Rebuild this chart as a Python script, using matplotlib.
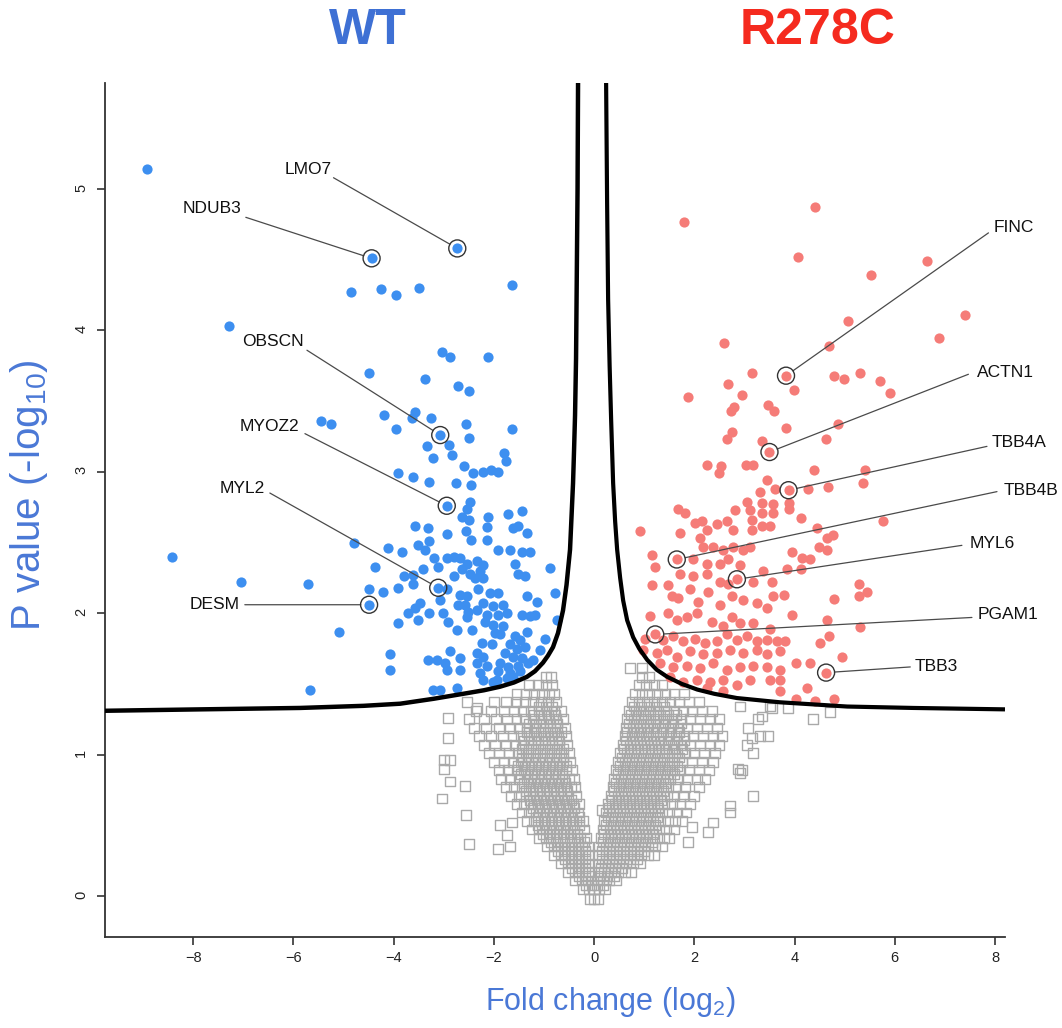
import numpy as np
import matplotlib
matplotlib.use("Agg")
import matplotlib.pyplot as plt

plt.rcParams["font.family"] = ["Liberation Sans", "DejaVu Sans"]
plt.rcParams["mathtext.default"] = "regular"

# proteins up in WT (blue dots): (log2 fold change, -log10 p)
wt_points = [
    (-8.93, 5.14), (-4.44, 4.51), (-2.73, 4.58), (-4.86, 4.27), (-4.25, 4.29), (-3.95, 4.25),
    (-3.49, 4.30), (-1.64, 4.32), (-7.28, 4.03), (-3.03, 3.85), (-2.87, 3.81), (-2.11, 3.81),
    (-4.49, 3.70), (-3.37, 3.66), (-2.72, 3.61), (-2.49, 3.57), (-4.19, 3.40), (-3.57, 3.42),
    (-3.64, 3.38), (-3.26, 3.38), (-5.44, 3.36), (-5.25, 3.34), (-3.95, 3.30), (-3.07, 3.26),
    (-2.56, 3.34), (-2.49, 3.24), (-1.64, 3.30), (-3.33, 3.18), (-2.89, 3.19), (-3.21, 3.10),
    (-2.83, 3.12), (-1.80, 3.13), (-1.76, 3.08), (-2.59, 3.04), (-2.41, 2.99), (-2.22, 3.00),
    (-2.06, 3.01), (-1.91, 3.00), (-3.91, 2.99), (-3.61, 2.96), (-3.29, 2.93), (-2.75, 2.92),
    (-2.46, 2.91), (-2.94, 2.76), (-2.48, 2.79), (-2.54, 2.74), (-2.64, 2.68), (-2.50, 2.66),
    (-2.11, 2.68), (-1.71, 2.70), (-1.44, 2.72), (-3.57, 2.62), (-3.32, 2.60), (-2.94, 2.56),
    (-2.56, 2.58), (-2.46, 2.52), (-2.14, 2.61), (-2.14, 2.52), (-1.61, 2.60), (-1.51, 2.62),
    (-1.34, 2.57), (-4.79, 2.50), (-3.52, 2.48), (-3.29, 2.51), (-3.37, 2.45), (-4.11, 2.46),
    (-3.84, 2.43), (-1.91, 2.45), (-1.68, 2.45), (-1.44, 2.43), (-1.28, 2.43), (-3.19, 2.39),
    (-2.94, 2.39), (-2.79, 2.40), (-2.67, 2.39), (-3.11, 2.33), (-2.54, 2.35), (-2.34, 2.37),
    (-2.21, 2.34), (-1.58, 2.35), (-8.43, 2.40), (-4.37, 2.33), (-2.64, 2.31), (-2.48, 2.28),
    (-2.28, 2.30), (-0.88, 2.32), (-3.41, 2.31), (-3.79, 2.26), (-3.61, 2.27), (-2.79, 2.26),
    (-2.38, 2.25), (-2.21, 2.25), (-1.51, 2.28), (-1.38, 2.26), (-7.05, 2.22), (-5.70, 2.21),
    (-3.92, 2.18), (-3.61, 2.21), (-3.11, 2.18), (-4.49, 2.17), (-4.22, 2.15), (-2.94, 2.17),
    (-2.67, 2.13), (-2.54, 2.12), (-2.31, 2.17), (-2.08, 2.14), (-1.91, 2.14), (-1.34, 2.12),
    (-1.14, 2.08), (-0.78, 2.14), (-3.07, 2.09), (-2.71, 2.06), (-2.57, 2.06), (-2.21, 2.07),
    (-2.01, 2.05), (-1.81, 2.06), (-3.47, 2.07), (-3.57, 2.04), (-4.49, 2.06), (-3.01, 2.00),
    (-2.91, 1.94), (-2.51, 2.01), (-2.34, 2.02), (-2.14, 1.99), (-1.91, 1.99), (-1.74, 2.00),
    (-1.44, 1.99), (-1.28, 1.98), (-1.18, 1.99), (-3.71, 2.00), (-3.51, 1.95), (-3.29, 2.00),
    (-3.92, 1.93), (-2.54, 1.97), (-2.18, 1.94), (-2.01, 1.92), (-1.81, 1.91), (-0.74, 1.95),
    (-2.74, 1.88), (-2.44, 1.88), (-1.98, 1.86), (-1.88, 1.85), (-1.58, 1.84), (-1.48, 1.81),
    (-1.34, 1.87), (-0.98, 1.82), (-5.10, 1.87), (-2.24, 1.79), (-2.04, 1.78), (-1.68, 1.78),
    (-1.54, 1.75), (-1.38, 1.76), (-1.08, 1.74), (-4.07, 1.71), (-2.87, 1.73), (-2.67, 1.68),
    (-2.34, 1.72), (-2.21, 1.69), (-1.78, 1.72), (-1.61, 1.69), (-1.44, 1.68), (-3.31, 1.67),
    (-3.14, 1.67), (-2.97, 1.65), (-2.34, 1.65), (-2.14, 1.63), (-1.88, 1.65), (-1.71, 1.62),
    (-1.51, 1.63), (-1.31, 1.65), (-4.07, 1.60), (-2.94, 1.60), (-2.67, 1.60), (-2.28, 1.58),
    (-1.91, 1.59), (-1.68, 1.58), (-1.48, 1.59), (-2.21, 1.53), (-1.94, 1.53), (-1.74, 1.54),
    (-5.67, 1.46), (-3.21, 1.46), (-3.07, 1.46), (-2.74, 1.47), (-2.01, 1.51), (-1.22, 1.67),
    (-1.62, 1.55),
]

# proteins up in R278C (red dots)
mut_points = [
    (1.80, 4.77), (4.41, 4.87), (4.06, 4.52), (6.64, 4.49), (5.52, 4.39), (5.06, 4.07),
    (7.40, 4.11), (6.89, 3.95), (2.60, 3.91), (4.68, 3.89), (3.83, 3.68), (3.15, 3.70),
    (4.79, 3.68), (4.98, 3.66), (5.30, 3.70), (5.71, 3.64), (5.91, 3.56), (2.68, 3.62),
    (3.99, 3.58), (1.88, 3.53), (2.96, 3.54), (2.73, 3.43), (2.80, 3.46), (3.48, 3.47),
    (3.60, 3.43), (3.83, 3.31), (4.86, 3.34), (2.76, 3.28), (2.65, 3.23), (3.35, 3.22),
    (3.50, 3.14), (4.63, 3.23), (2.26, 3.05), (2.53, 3.04), (2.50, 2.99), (3.03, 3.05),
    (3.18, 3.05), (4.38, 3.01), (5.40, 3.01), (3.46, 2.94), (5.36, 2.92), (3.88, 2.87),
    (3.61, 2.88), (3.31, 2.86), (4.26, 2.88), (4.66, 2.89), (5.76, 2.65), (1.68, 2.74),
    (1.82, 2.71), (2.81, 2.73), (3.05, 2.79), (3.11, 2.73), (3.35, 2.78), (3.35, 2.71),
    (3.58, 2.77), (3.58, 2.71), (3.88, 2.78), (3.88, 2.74), (4.13, 2.67), (0.92, 2.58),
    (1.72, 2.57), (2.02, 2.64), (2.15, 2.65), (2.25, 2.59), (2.45, 2.63), (2.65, 2.65),
    (2.78, 2.59), (3.15, 2.66), (3.15, 2.59), (3.35, 2.62), (3.51, 2.62), (4.45, 2.60),
    (4.64, 2.53), (4.76, 2.55), (1.65, 2.38), (1.15, 2.41), (1.22, 2.33), (1.15, 2.20),
    (2.12, 2.53), (2.18, 2.47), (2.38, 2.47), (2.58, 2.45), (2.78, 2.47), (2.98, 2.45),
    (3.11, 2.47), (1.98, 2.38), (2.25, 2.35), (2.51, 2.35), (2.68, 2.38), (2.91, 2.34),
    (3.95, 2.43), (4.15, 2.39), (4.31, 2.38), (4.48, 2.47), (4.64, 2.45), (2.85, 2.24),
    (1.72, 2.28), (1.98, 2.26), (2.25, 2.28), (2.51, 2.22), (2.68, 2.21), (3.18, 2.22),
    (3.38, 2.30), (3.55, 2.22), (3.85, 2.31), (4.13, 2.31), (5.28, 2.21), (5.44, 2.15),
    (5.28, 2.12), (4.79, 2.10), (1.48, 2.20), (1.55, 2.12), (1.68, 2.11), (1.92, 2.17),
    (2.08, 2.08), (2.28, 2.15), (2.51, 2.06), (2.75, 2.12), (2.98, 2.09), (3.25, 2.07),
    (3.45, 2.04), (3.58, 2.12), (3.78, 2.13), (3.95, 1.99), (4.64, 1.95), (5.30, 1.90),
    (1.12, 1.98), (1.48, 2.00), (1.65, 1.95), (1.85, 1.97), (2.05, 2.00), (2.35, 1.94),
    (2.58, 1.91), (2.75, 1.97), (2.91, 1.93), (3.18, 1.93), (3.51, 1.89), (1.22, 1.85),
    (1.02, 1.82), (1.38, 1.81), (1.58, 1.84), (1.78, 1.80), (2.02, 1.82), (2.22, 1.79),
    (2.45, 1.80), (2.65, 1.85), (2.85, 1.81), (3.05, 1.84), (3.25, 1.80), (3.45, 1.81),
    (3.65, 1.80), (3.81, 1.80), (4.51, 1.79), (4.68, 1.84), (0.98, 1.74), (1.25, 1.72),
    (1.45, 1.74), (1.65, 1.69), (1.92, 1.73), (2.18, 1.71), (2.45, 1.72), (2.71, 1.74),
    (2.98, 1.72), (3.25, 1.74), (3.45, 1.71), (3.71, 1.73), (4.03, 1.65), (4.30, 1.65),
    (4.94, 1.69), (4.63, 1.58), (1.32, 1.65), (1.58, 1.62), (1.85, 1.63), (2.12, 1.61),
    (2.38, 1.65), (2.65, 1.60), (2.91, 1.62), (3.18, 1.63), (3.45, 1.62), (3.71, 1.60),
    (1.52, 1.55), (1.78, 1.51), (2.05, 1.53), (2.32, 1.51), (2.58, 1.53), (2.85, 1.49),
    (3.11, 1.53), (3.51, 1.53), (3.71, 1.53), (3.71, 1.45), (4.25, 1.47), (2.25, 1.47),
    (2.58, 1.45), (4.03, 1.39), (4.41, 1.38), (4.78, 1.39),
]

# non-significant proteins (grey squares), read row by row: (-log10 p, [log2 FC ...])
grey_rows = [
    (-0.02, [-0.08, 0.0, 0.07]),
    (0.05, [-0.22, -0.1, 0.0, 0.1, 0.22]),
    (0.11, [-0.38, -0.25, -0.12, 0.05, 0.17, 0.3, 0.44]),
    (0.17, [-0.52, -0.38, -0.24, -0.1, 0.07, 0.2, 0.34, 0.48, 0.62, 0.74]),
    (0.23, [-0.66, -0.52, -0.38, -0.24, -0.1, 0.08, 0.22, 0.36, 0.5, 0.64, 0.78, 0.92]),
    (0.29, [-0.8, -0.66, -0.52, -0.38, -0.24, -0.11, 0.09, 0.23, 0.37, 0.51, 0.65, 0.79,
            0.93, 1.07, 1.2]),
    (0.35, [-0.94, -0.8, -0.66, -0.52, -0.38, -0.24, -0.12, 0.1, 0.24, 0.38, 0.52, 0.66,
            0.8, 0.94, 1.08, 1.22, 1.35]),
    (0.41, [-1.1, -0.96, -0.82, -0.68, -0.54, -0.4, -0.27, -0.15, 0.13, 0.27, 0.41, 0.55,
            0.69, 0.83, 0.97, 1.11, 1.25, 1.4, 1.5]),
    (0.47, [-1.24, -1.1, -0.96, -0.82, -0.68, -0.54, -0.4, -0.2, 0.17, 0.31, 0.45, 0.59,
            0.73, 0.87, 1.01, 1.15, 1.29, 1.43, 1.6]),
    (0.53, [-1.35, -1.2, -1.06, -0.92, -0.78, -0.64, -0.5, -0.36, -0.22, 0.2, 0.34, 0.48,
            0.62, 0.76, 0.9, 1.04, 1.18, 1.32, 1.48, 1.62, 1.75]),
    (0.59, [-1.45, -1.3, -1.16, -1.02, -0.88, -0.74, -0.6, -0.46, -0.32, 0.23, 0.37, 0.51,
            0.65, 0.79, 0.93, 1.07, 1.21, 1.35, 1.5, 1.66, 1.84]),
    (0.65, [-1.55, -1.4, -1.26, -1.12, -0.98, -0.84, -0.7, -0.56, -0.42, -0.3, 0.28, 0.42,
            0.56, 0.7, 0.84, 0.98, 1.12, 1.26, 1.4, 1.56, 1.72, 1.92]),
    (0.71, [-1.65, -1.5, -1.36, -1.22, -1.08, -0.94, -0.8, -0.66, -0.52, -0.36, 0.33, 0.47,
            0.61, 0.75, 0.89, 1.03, 1.17, 1.31, 1.45, 1.6, 1.78, 2.0]),
    (0.77, [-1.75, -1.6, -1.45, -1.3, -1.16, -1.02, -0.88, -0.74, -0.6, -0.46, -0.37, 0.37,
            0.5, 0.64, 0.78, 0.92, 1.06, 1.2, 1.34, 1.48, 1.64, 1.82, 2.1]),
    (0.83, [-1.85, -1.68, -1.5, -1.34, -1.2, -1.06, -0.92, -0.78, -0.64, -0.5, -0.4, 0.4,
            0.54, 0.68, 0.82, 0.96, 1.1, 1.24, 1.38, 1.52, 1.68, 1.86, 2.05, 2.22]),
    (0.89, [-1.9, -1.72, -1.55, -1.4, -1.26, -1.12, -0.98, -0.84, -0.7, -0.56, -0.44, 0.44,
            0.58, 0.72, 0.86, 1.0, 1.14, 1.28, 1.42, 1.56, 1.72, 1.9, 2.1, 2.3]),
    (0.95, [-2.0, -1.8, -1.62, -1.46, -1.32, -1.18, -1.04, -0.9, -0.76, -0.62, -0.48, 0.48,
            0.62, 0.76, 0.9, 1.04, 1.18, 1.32, 1.46, 1.6, 1.76, 1.95, 2.15, 2.38]),
    (1.01, [-2.1, -1.9, -1.7, -1.52, -1.36, -1.22, -1.08, -0.94, -0.8, -0.66, -0.5, 0.52,
            0.66, 0.8, 0.94, 1.08, 1.22, 1.36, 1.5, 1.66, 1.82, 2.0, 2.2, 2.42]),
    (1.07, [-2.2, -1.98, -1.76, -1.58, -1.42, -1.26, -1.12, -0.98, -0.84, -0.7, -0.54, 0.58,
            0.72, 0.86, 1.0, 1.14, 1.28, 1.42, 1.58, 1.74, 1.92, 2.12, 2.32, 2.5]),
    (1.13, [-2.3, -2.05, -1.82, -1.62, -1.46, -1.3, -1.15, -1.0, -0.86, -0.72, -0.56, 0.62,
            0.76, 0.9, 1.04, 1.18, 1.32, 1.48, 1.64, 1.8, 1.98, 2.18, 2.38, 2.55]),
    (1.19, [-2.4, -2.15, -1.9, -1.68, -1.5, -1.34, -1.18, -1.02, -0.88, -0.74, -0.58, 0.64,
            0.78, 0.92, 1.06, 1.2, 1.36, 1.52, 1.68, 1.86, 2.05, 2.25, 2.45]),
    (1.25, [-2.5, -2.2, -1.95, -1.74, -1.55, -1.38, -1.22, -1.06, -0.9, -0.76, -0.62, 0.66,
            0.8, 0.94, 1.08, 1.24, 1.4, 1.56, 1.74, 1.92, 2.12, 2.32, 2.5]),
    (1.31, [-2.35, -2.05, -1.8, -1.6, -1.42, -1.26, -1.1, -0.95, -0.8, -0.66, 0.7, 0.84,
            0.98, 1.12, 1.28, 1.44, 1.6, 1.78, 1.96, 2.15, 2.35]),
    (1.37, [-2.0, -1.75, -1.55, -1.38, -1.22, -1.06, -0.92, -0.76, 0.75, 0.9, 1.05, 1.2,
            1.36, 1.52, 1.7, 1.9, 2.1]),
    (1.43, [-1.55, -1.36, -1.2, -1.04, -0.9, -0.8, 0.82, 0.96, 1.1, 1.26, 1.42, 1.6, 1.8]),
    (1.49, [-1.3, -1.12, -0.96, -0.84, 0.9, 1.04, 1.2, 1.36]),
    (1.55, [-0.96, -0.86, 0.95, 1.1]),
    (1.61, [0.72, 0.96]),
]
# the packed core of each arm, squares sitting between the rows above
grey_rows_core = [
    (0.08, [-0.17, -0.05, 0.06, 0.17]),
    (0.14, [-0.31, -0.17, -0.05, 0.12, 0.26, 0.4]),
    (0.20, [-0.45, -0.31, -0.17, 0.14, 0.28, 0.42, 0.56]),
    (0.26, [-0.59, -0.45, -0.31, -0.17, 0.15, 0.29, 0.43, 0.57, 0.71, 0.85]),
    (0.32, [-0.73, -0.59, -0.45, -0.31, -0.17, 0.16, 0.3, 0.44, 0.58, 0.72, 0.86, 1.0]),
    (0.38, [-0.87, -0.73, -0.59, -0.45, -0.31, -0.19, 0.17, 0.31, 0.45, 0.59, 0.73, 0.87,
            1.01, 1.15]),
    (0.44, [-1.03, -0.89, -0.75, -0.61, -0.47, -0.33, 0.2, 0.34, 0.48, 0.62, 0.76, 0.9,
            1.04, 1.18]),
    (0.50, [-1.13, -0.99, -0.85, -0.71, -0.57, -0.43, -0.29, 0.24, 0.38, 0.52, 0.66, 0.8,
            0.94, 1.08, 1.22]),
    (0.56, [-1.13, -0.99, -0.85, -0.71, -0.57, -0.43, -0.29, 0.27, 0.41, 0.55, 0.69, 0.83,
            0.97, 1.11, 1.25]),
    (0.62, [-1.23, -1.09, -0.95, -0.81, -0.67, -0.53, -0.39, 0.3, 0.44, 0.58, 0.72, 0.86,
            1.0, 1.14, 1.28]),
    (0.68, [-1.29, -1.15, -1.01, -0.87, -0.73, -0.59, -0.45, 0.35, 0.49, 0.63, 0.77, 0.91,
            1.05, 1.19, 1.33]),
    (0.74, [-1.37, -1.23, -1.09, -0.95, -0.81, -0.67, -0.53, 0.4, 0.54, 0.68, 0.82, 0.96,
            1.1, 1.24, 1.38]),
    (0.80, [-1.41, -1.27, -1.13, -0.99, -0.85, -0.71, -0.57, 0.44, 0.58, 0.72, 0.86, 1.0,
            1.14, 1.28, 1.42]),
    (0.86, [-1.47, -1.33, -1.19, -1.05, -0.91, -0.77, -0.63, 0.47, 0.61, 0.75, 0.89, 1.03,
            1.17, 1.31, 1.45, 1.6]),
    (0.92, [-1.53, -1.39, -1.25, -1.11, -0.97, -0.83, -0.69, -0.55, 0.51, 0.65, 0.79, 0.93,
            1.07, 1.21, 1.35, 1.5, 1.65]),
    (0.98, [-1.45, -1.31, -1.17, -1.03, -0.89, -0.75, -0.61, 0.55, 0.69, 0.83, 0.97, 1.11,
            1.25, 1.4, 1.55, 1.7]),
    (1.04, [-1.45, -1.31, -1.17, -1.03, -0.89, -0.75, -0.61, 0.59, 0.73, 0.87, 1.01, 1.15,
            1.29, 1.44, 1.6, 1.75]),
    (1.10, [-1.4, -1.26, -1.12, -0.98, -0.84, -0.7, 0.63, 0.77, 0.91, 1.05, 1.19, 1.34,
            1.5, 1.65, 1.8]),
    (1.16, [-1.35, -1.21, -1.07, -0.93, -0.79, -0.65, 0.66, 0.8, 0.94, 1.08, 1.23, 1.38,
            1.54, 1.7]),
    (1.22, [-1.3, -1.16, -1.02, -0.88, -0.74, 0.7, 0.84, 0.98, 1.12, 1.27, 1.42, 1.58, 1.74]),
    (1.28, [-1.2, -1.06, -0.92, -0.78, 0.74, 0.88, 1.02, 1.17, 1.32, 1.48, 1.64]),
    (1.34, [-1.1, -0.96, -0.84, 0.8, 0.94, 1.09, 1.24, 1.4]),
]
grey_extra = [
    (-2.91, 1.26), (-2.91, 1.12), (-3.0, 0.96), (-2.87, 0.96), (-3.0, 0.90), (-2.87, 0.81),
    (-3.03, 0.69), (-2.57, 0.78), (-2.55, 0.57), (-2.5, 0.37), (-1.92, 0.33), (-1.68, 0.35),
    (-1.64, 0.52), (-1.88, 0.5), (-1.74, 0.43), (-2.53, 1.37), (-2.33, 1.33),
    (3.17, 0.71), (2.71, 0.64), (2.71, 0.59), (2.38, 0.52), (2.28, 0.45), (1.96, 0.49),
    (1.88, 0.38), (3.15, 1.12), (3.17, 1.01), (3.51, 1.34), (3.27, 1.25), (2.87, 0.9),
    (2.91, 0.87), (3.47, 1.13), (3.31, 1.13), (3.07, 1.19), (3.05, 1.07), (4.71, 1.30),
    (4.37, 1.25), (3.87, 1.33), (3.55, 1.33), (3.35, 1.27), (2.91, 1.34), (2.95, 0.89),
    (0.16, 0.61),
]

# significance threshold curve
curve_left_x = [-9.76, -7.86, -5.87, -4.6, -3.87, -3.2, -2.53, -2.2, -1.88, -1.6, -1.34,
                -1.18, -1.02, -0.92, -0.82, -0.72, -0.62, -0.55, -0.48, -0.42, -0.40,
                -0.38, -0.36, -0.35, -0.33, -0.32]
curve_left_y = [1.31, 1.32, 1.33, 1.345, 1.36, 1.395, 1.435, 1.455, 1.48, 1.51, 1.55,
                1.59, 1.65, 1.70, 1.76, 1.86, 2.02, 2.2, 2.45, 2.92, 3.15,
                3.4, 3.8, 4.2, 5.0, 5.75]
curve_right_x = [0.24, 0.26, 0.28, 0.31, 0.34, 0.38, 0.42, 0.46, 0.52, 0.58, 0.66, 0.78,
                 0.9, 1.06, 1.25, 1.46, 1.75, 2.06, 2.4, 2.85, 3.71, 5.05, 6.37, 8.2]
curve_right_y = [5.75, 4.9, 4.22, 3.75, 3.37, 2.92, 2.65, 2.45, 2.25, 2.09, 1.95, 1.83,
                 1.75, 1.67, 1.60, 1.55, 1.50, 1.46, 1.43, 1.40, 1.37, 1.34, 1.33, 1.32]

# labelled proteins
gene_names = ["LMO7", "NDUB3", "OBSCN", "MYOZ2", "MYL2", "DESM",
              "FINC", "ACTN1", "TBB4A", "TBB4B", "MYL6", "PGAM1", "TBB3"]
gene_x = [-2.73, -4.44, -3.07, -2.94, -3.11, -4.49, 3.83, 3.50, 3.88, 1.65, 2.85, 1.22, 4.63]
gene_y = [4.58, 4.51, 3.26, 2.76, 2.18, 2.06, 3.68, 3.14, 2.87, 2.38, 2.24, 1.85, 1.58]

# where the label text and its leader line start (layout)
label_text = [(-5.24, 5.14), (-7.03, 4.86), (-5.80, 3.92), (-5.89, 3.32), (-6.57, 2.88),
              (-7.07, 2.06), (7.97, 4.73), (7.64, 3.70), (7.94, 3.21), (8.17, 2.87),
              (7.50, 2.49), (7.66, 1.99), (6.39, 1.62)]
line_start = [(-5.20, 5.08), (-6.95, 4.80), (-5.73, 3.86), (-5.77, 3.27), (-6.47, 2.85),
              (-6.97, 2.06), (7.87, 4.69), (7.47, 3.69), (7.84, 3.18), (8.04, 2.86),
              (7.34, 2.48), (7.54, 1.97), (6.31, 1.62)]

blue = "#3d8ff0"
red = "#f57c78"

grey_x, grey_y = [], []
for yv, xs in grey_rows + grey_rows_core:
    grey_x += xs
    grey_y += [yv] * len(xs)
grey_x += [p[0] for p in grey_extra]
grey_y += [p[1] for p in grey_extra]

wt_x = [p[0] for p in wt_points]
wt_y = [p[1] for p in wt_points]
mut_x = [p[0] for p in mut_points]
mut_y = [p[1] for p in mut_points]

fig = plt.figure(figsize=(10.62, 10.28), dpi=100)
ax = fig.add_axes([105 / 1062, 91 / 1028, 900 / 1062, 854 / 1028])

ax.scatter(grey_x, grey_y, s=50, marker="s", facecolors="none", edgecolors="#a9a9a9",
           linewidths=1.0, zorder=2)
ax.scatter(wt_x, wt_y, s=54, color=blue, linewidths=0, zorder=3)
ax.scatter(mut_x, mut_y, s=54, color=red, linewidths=0, zorder=3)

ax.plot(curve_left_x, curve_left_y, color="black", lw=3.2, zorder=4,
        solid_capstyle="butt", solid_joinstyle="round")
ax.plot(curve_right_x, curve_right_y, color="black", lw=3.0, zorder=4,
        solid_capstyle="butt", solid_joinstyle="round")

for i, name in enumerate(gene_names):
    gx, gy = gene_x[i], gene_y[i]
    lx, ly = line_start[i]
    tx, ty = label_text[i]
    ax.annotate("", xy=(gx, gy), xytext=(lx, ly),
                arrowprops=dict(arrowstyle="-", color="#4a4a4a", lw=0.9,
                                shrinkA=0, shrinkB=6), zorder=5)
    ax.scatter([gx], [gy], s=150, facecolors="none", edgecolors="#333333",
               linewidths=1.0, zorder=5)
    ha = "right" if gx < 0 else "left"
    ax.text(tx, ty, name, ha=ha, va="center", fontsize=12.5, color="#111111", zorder=6)

ax.set_xlim(-9.76, 8.2)
ax.set_ylim(-0.29, 5.75)
ax.set_xticks(range(-8, 9, 2))
ax.set_yticks(range(0, 6))
for s in ["top", "right"]:
    ax.spines[s].set_visible(False)
for s in ["left", "bottom"]:
    ax.spines[s].set_color("#333333")
    ax.spines[s].set_linewidth(1.3)
ax.tick_params(axis="both", length=6, width=1.2, color="#333333", labelsize=10.5,
               labelcolor="#222222")
ax.tick_params(axis="y", labelrotation=90, pad=6)
ax.tick_params(axis="x", pad=4)

fig.text(368 / 1062, 1 - 31 / 1028, "WT", ha="center", va="center", fontsize=36,
         fontweight="bold", color="#3e70d4")
fig.text(818 / 1062, 1 - 31 / 1028, "R278C", ha="center", va="center", fontsize=36,
         fontweight="bold", color="#f52a1e")
fig.text(610 / 1062, 1 - 1002 / 1028, "Fold change (log$_2$)", ha="center", va="center",
         fontsize=22, color="#4a78d6")
fig.text(29 / 1062, 1 - 495 / 1028, "P value (-log$_{10}$)", ha="center", va="center",
         rotation=90, fontsize=29, color="#4a78d6")

fig.savefig("out.png", dpi=100)
